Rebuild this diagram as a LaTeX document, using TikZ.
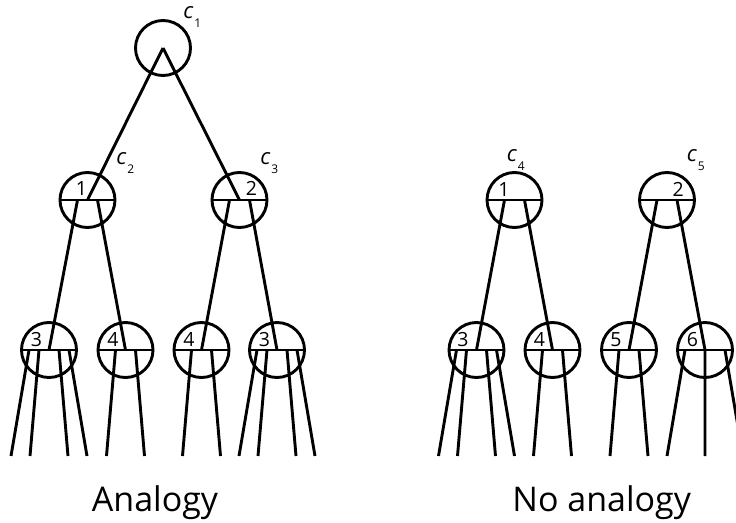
\documentclass[tikz,border=0pt]{standalone}
\usepackage{fontspec}
\setmainfont{Open Sans}
\usetikzlibrary{calc}
\newcommand\clabtxt[1]{{\itshape c}\kern1pt\raisebox{-9pt}{\fontsize{12}{12}\selectfont #1}}
\begin{document}
\begin{tikzpicture}[x=1pt,y=-1pt,line width=2.9pt,
  treenode/.style={draw,circle,minimum size=55pt,inner sep=0pt},
  num/.style={anchor=base west,inner sep=0pt,font=\fontsize{19.5}{19.5}\selectfont},
  clab/.style={anchor=base west,inner sep=0pt,font=\fontsize{22}{22}\selectfont},
  title/.style={anchor=base,inner sep=0pt,font=\fontsize{34}{34}\selectfont}]
\useasboundingbox (0,0) rectangle (736,522);
\clip (0,0) rectangle (736,522);

% ---------- Analogy tree ----------
\node[treenode] (r)   at (163,48) {};
\node[treenode] (n1)  at (87.5,200) {};
\node[treenode] (n2)  at (239.5,200) {};
\node[treenode] (n3a) at (49,350) {};
\node[treenode] (n4a) at (125.5,350) {};
\node[treenode] (n4b) at (201.5,350) {};
\node[treenode] (n3b) at (277,350) {};

\foreach \n in {n1,n2,n3a,n4a,n4b,n3b} \draw (\n.west) -- (\n.east);

\draw (r.center) -- (n1.center);
\draw (r.center) -- (n2.center);
\draw ($(n1)+(-10,0)$) -- (n3a.center);
\draw ($(n1)+(10,0)$) -- (n4a.center);
\draw ($(n2)+(-10,0)$) -- (n4b.center);
\draw ($(n2)+(10,0)$) -- (n3b.center);

\foreach \n in {n3a,n3b}
  \foreach \o/\e in {-20/-38,-10/-19,10/19,20/38}
    \draw ($(\n)+(\o,0)$) -- ($(\n)+(\e,106)$);
\foreach \n in {n4a,n4b}
  \foreach \o/\e in {-10/-19,10/19}
    \draw ($(\n)+(\o,0)$) -- ($(\n)+(\e,106)$);

\node[num] (t1)  at ($(n1)+(-13,-4.5)$) {1};
\node[num] (t2)  at ($(n2)+(5,-4.5)$) {2};
\node[num] (t3a) at ($(n3a)+(-19.5,-3.5)$) {3};
\node[num] (t4a) at ($(n4a)+(-19.5,-3.5)$) {4};
\node[num] (t4b) at ($(n4b)+(-19.5,-3.5)$) {4};
\node[num] (t3b) at ($(n3b)+(-19.5,-3.5)$) {3};

\node[clab] (c1) at (182,18.3) {\clabtxt{1}};
\node[clab] (c2) at (115,164) {\clabtxt{2}};
\node[clab] (c3) at (259,164) {\clabtxt{3}};

\node[title] (ta) at (155,511.7) {Analogy};

% ---------- No analogy trees ----------
\node[treenode] (m1) at (514.5,200) {};
\node[treenode] (m2) at (667,200) {};
\node[treenode] (m3) at (476.5,350) {};
\node[treenode] (m4) at (552.5,350) {};
\node[treenode] (m5) at (629,350) {};
\node[treenode] (m6) at (705,350) {};

\foreach \n in {m1,m2,m3,m4,m5,m6} \draw (\n.west) -- (\n.east);

\draw ($(m1)+(-10,0)$) -- (m3.center);
\draw ($(m1)+(10,0)$) -- (m4.center);
\draw ($(m2)+(-10,0)$) -- (m5.center);
\draw ($(m2)+(10,0)$) -- (m6.center);

\foreach \o/\e in {-20/-38,-10/-19,10/19,20/38}
  \draw ($(m3)+(\o,0)$) -- ($(m3)+(\e,106)$);
\foreach \n in {m4,m5}
  \foreach \o/\e in {-10/-19,10/19}
    \draw ($(\n)+(\o,0)$) -- ($(\n)+(\e,106)$);
\foreach \o/\e in {-20/-38,20/38}
  \draw ($(m6)+(\o,0)$) -- ($(m6)+(\e,106)$);
\draw (m6.center) -- ($(m6)+(0.01,106)$);

\node[num] (u1) at ($(m1)+(-17.5,-3.5)$) {1};
\node[num] (u2) at ($(m2)+(4.2,-3.5)$) {2};
\node[num] (u3) at ($(m3)+(-20.5,-3.5)$) {3};
\node[num] (u4) at ($(m4)+(-20,-3.5)$) {4};
\node[num] (u5) at ($(m5)+(-20,-3.5)$) {5};
\node[num] (u6) at ($(m6)+(-19.5,-3.5)$) {6};

\node[clab] (c4) at (505.5,161.7) {\clabtxt{4}};
\node[clab] (c5) at (685.5,161.7) {\clabtxt{5}};

\node[title] (tn) at (601.7,511.7) {No analogy};
\end{tikzpicture}
\end{document}
